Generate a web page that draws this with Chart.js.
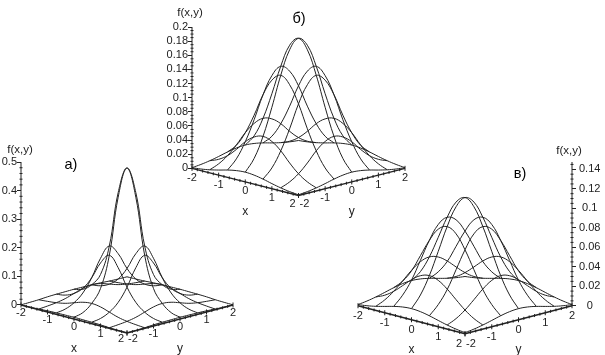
<!DOCTYPE html>
<html>
<head>
<meta charset="utf-8">
<style>
  html, body { margin: 0; background: #fff; }
  canvas { position: absolute; }
</style>
<script src="https://cdn.jsdelivr.net/npm/chart.js@4/dist/chart.umd.min.js"></script>
</head>
<body>
<canvas id="panelA" width="240" height="215" style="left:0;top:140px"></canvas>
<canvas id="panelB" width="250" height="225" style="left:165px;top:0"></canvas>
<canvas id="panelC" width="260" height="215" style="left:345px;top:140px"></canvas>
<script>
// mesh lines and the samples along each line
const gridLines = [-2, -1.333, -0.667, 0, 0.667, 1.333, 2];
const sampleT = [-2, -1.667, -1.333, -1, -0.667, -0.333, 0, 0.333, 0.667, 1, 1.333, 1.667, 2];
const rowOfLine = ['edge', 'outer', 'inner', 'centre', 'inner', 'outer', 'edge'];
const axisTicks = [-2, -1, 0, 1, 2];
const axisMinor = [-1.8, -1.6, -1.4, -1.2, -0.8, -0.6, -0.4, -0.2, 0.2, 0.4, 0.6, 0.8, 1.2, 1.4, 1.6, 1.8];

// а) f values
const centreA = [0.006, 0.014, 0.038, 0.082, 0.19, 0.385, 0.479, 0.385, 0.19, 0.082, 0.038, 0.014, 0.006];
const innerA = [0.005, 0.01, 0.024, 0.05, 0.095, 0.155, 0.19, 0.155, 0.095, 0.05, 0.024, 0.01, 0.005];
const outerA = [0.002, 0.0045, 0.008, 0.014, 0.024, 0.034, 0.038, 0.034, 0.024, 0.014, 0.008, 0.0045, 0.002];
const edgeA = [0.0005, 0.001, 0.002, 0.004, 0.005, 0.0055, 0.006, 0.0055, 0.005, 0.004, 0.002, 0.001, 0.0005];
const ticksA = [0, 0.1, 0.2, 0.3, 0.4, 0.5];
const minorA = [0.02, 0.04, 0.06, 0.08, 0.12, 0.14, 0.16, 0.18, 0.22, 0.24, 0.26, 0.28, 0.32, 0.34, 0.36, 0.38, 0.42, 0.44, 0.46, 0.48];

// б)
const centreB = [0.0138, 0.030, 0.058, 0.096, 0.138, 0.171, 0.184, 0.171, 0.138, 0.096, 0.058, 0.030, 0.0138];
const innerB = [0.0104, 0.023, 0.044, 0.072, 0.104, 0.128, 0.138, 0.128, 0.104, 0.072, 0.044, 0.023, 0.0104];
const outerB = [0.0044, 0.0096, 0.018, 0.030, 0.044, 0.054, 0.058, 0.054, 0.044, 0.030, 0.018, 0.0096, 0.0044];
const edgeB = [0.001, 0.0023, 0.0044, 0.0072, 0.0104, 0.0128, 0.0138, 0.0128, 0.0104, 0.0072, 0.0044, 0.0023, 0.001];
const ticksB = [0, 0.02, 0.04, 0.06, 0.08, 0.1, 0.12, 0.14, 0.16, 0.18, 0.2];
const minorB = [0.005, 0.01, 0.015, 0.025, 0.03, 0.035, 0.045, 0.05, 0.055, 0.065, 0.07, 0.075, 0.085, 0.09, 0.095, 0.105, 0.11, 0.115, 0.125, 0.13, 0.135, 0.145, 0.15, 0.155, 0.165, 0.17, 0.175, 0.185, 0.19, 0.195];

// в)
const centreC = [0.0114, 0.023, 0.0405, 0.063, 0.086, 0.104, 0.111, 0.104, 0.086, 0.063, 0.0405, 0.023, 0.0114];
const innerC = [0.0089, 0.018, 0.031, 0.049, 0.067, 0.081, 0.086, 0.081, 0.067, 0.049, 0.031, 0.018, 0.0089];
const outerC = [0.0042, 0.0084, 0.0148, 0.023, 0.0315, 0.038, 0.0405, 0.038, 0.0315, 0.023, 0.0148, 0.0084, 0.0042];
const edgeC = [0.0012, 0.0024, 0.0042, 0.0065, 0.0089, 0.0107, 0.0114, 0.0107, 0.0089, 0.0065, 0.0042, 0.0024, 0.0012];
const ticksC = [0, 0.02, 0.04, 0.06, 0.08, 0.1, 0.12, 0.14];
const minorC = [0.005, 0.01, 0.015, 0.025, 0.03, 0.035, 0.045, 0.05, 0.055, 0.065, 0.07, 0.075, 0.085, 0.09, 0.095, 0.105, 0.11, 0.115, 0.125, 0.13, 0.135, 0.145];

const INK = '#222';
const FONT = '"Liberation Sans", Arial, sans-serif';

// 3d -> plot: horizontal is x+y, the floor tilts down towards the viewer by `tilt` f-units
function project(x, y, f, tilt) {
  return { x: x + y, y: f - tilt * (x - y) };
}

function line(data, width) {
  return { data, showLine: true, tension: 0.4, borderColor: INK, borderWidth: width || 1, pointRadius: 0, clip: false };
}

function tickMarks(data, radius, rotation) {
  return { data, showLine: false, pointStyle: 'line', pointRadius: radius, pointRotation: rotation, pointBorderColor: INK, pointBorderWidth: 1, clip: false };
}

function meshDatasets(p) {
  const out = [];
  gridLines.forEach((d, i) => {
    const row = p.rows[rowOfLine[i]];
    out.push(line(sampleT.map((t, j) => project(d, t, row[j], p.tilt))));
    out.push(line(sampleT.map((t, j) => project(t, d, row[j], p.tilt))));
  });
  return out;
}

function axisDatasets(p) {
  const vx = p.axisRight ? 4 : -4;
  const floorX = (v) => project(v, -2, 0, p.tilt);
  const floorY = (v) => project(2, v, 0, p.tilt);
  return [
    line([{ x: vx, y: 0 }, { x: vx, y: p.max }]),
    tickMarks(p.minor.map((v) => ({ x: vx, y: v })), 1.5, 0),
    line([floorX(-2), floorX(2)], 1.4),
    line([floorY(-2), floorY(2)], 1.4),
    tickMarks(axisMinor.map(floorX), 1.5, 90),
    tickMarks(axisMinor.map(floorY), 1.5, 90),
    tickMarks(axisTicks.map(floorX), 2.5, 90),
    tickMarks(axisTicks.map(floorY), 2.5, 90),
  ];
}

// подписи осей x/y и заголовки
const panelText = {
  id: 'panelText',
  afterDraw(chart, args, o) {
    const { ctx } = chart;
    const sx = chart.scales.x, sy = chart.scales.y;
    ctx.save();
    ctx.fillStyle = INK;
    ctx.textAlign = 'center';
    ctx.textBaseline = 'middle';
    ctx.font = '11px ' + FONT;
    axisTicks.forEach((v) => {
      const a = project(v, -2, 0, o.tilt), b = project(2, v, 0, o.tilt);
      const ax = v === 2 ? -6 : 0, ay = v === 2 ? o.cornerDrop : o.drop;
      const bx = v === -2 ? 6 : 0, by = v === -2 ? o.cornerDrop : o.drop;
      ctx.fillText(String(v), sx.getPixelForValue(a.x) + ax, sy.getPixelForValue(a.y) + ay);
      ctx.fillText(String(v), sx.getPixelForValue(b.x) + bx, sy.getPixelForValue(b.y) + by);
    });
    ctx.font = '12px ' + FONT;
    const xt = project(0, -2, 0, o.tilt), yt = project(2, 0, 0, o.tilt);
    ctx.fillText('x', sx.getPixelForValue(xt.x), sy.getPixelForValue(xt.y) + 30);
    ctx.fillText('y', sx.getPixelForValue(yt.x), sy.getPixelForValue(yt.y) + 30);
    ctx.font = '11.5px ' + FONT;
    ctx.fillText('f(x,y)', o.fx, o.fy);
    ctx.fillStyle = '#000';
    ctx.font = '14.5px ' + FONT;
    ctx.fillText(o.name, o.nameX, o.nameY);
    ctx.restore();
  },
};

function drawPanel(canvasId, p) {
  new Chart(document.getElementById(canvasId), {
    type: 'scatter',
    data: { datasets: meshDatasets(p).concat(axisDatasets(p)) },
    plugins: [panelText],
    options: {
      responsive: false,
      animation: false,
      layout: { padding: p.padding },
      plugins: {
        legend: { display: false },
        tooltip: { enabled: false },
        panelText: { tilt: p.tilt, name: p.name, nameX: p.nameX, nameY: p.nameY, fx: p.fx, fy: p.fy, drop: p.drop, cornerDrop: p.cornerDrop },
      },
      scales: {
        x: { type: 'linear', display: false, min: -4, max: 4 },
        y: {
          type: 'linear',
          position: p.axisRight ? 'right' : 'left',
          min: p.min,
          max: p.max,
          afterBuildTicks: (s) => { s.ticks = p.ticks.map((v) => ({ value: v })); },
          afterFit: (s) => { s.width = p.axisWidth; },
          border: { display: false },
          grid: { drawOnChartArea: false, tickLength: 4, tickColor: INK },
          ticks: {
            color: INK, font: { family: FONT, size: 11 }, padding: p.axisRight ? 3 : 0,
            crossAlign: p.axisRight ? 'center' : 'near',
            autoSkip: false, maxRotation: 0, callback: (v) => String(v),
          },
        },
      },
    },
  });
}

drawPanel('panelA', {
  rows: { centre: centreA, inner: innerA, outer: outerA, edge: edgeA },
  ticks: ticksA, minor: minorA, tilt: 0.0245, min: -0.14, max: 0.5,
  axisWidth: 21, padding: { top: 22, bottom: 10, right: 7 }, drop: 8, cornerDrop: 6,
  name: 'а)', nameX: 71, nameY: 25, fx: 20, fy: 10,
});
drawPanel('panelB', {
  rows: { centre: centreB, inner: innerB, outer: outerB, edge: edgeB },
  ticks: ticksB, minor: minorB, tilt: 0.0096, min: -0.066, max: 0.2,
  axisWidth: 27, padding: { top: 27, bottom: 10, right: 10 }, drop: 9.5, cornerDrop: 8,
  name: 'б)', nameX: 134, nameY: 19, fx: 25, fy: 13,
});
drawPanel('panelC', {
  rows: { centre: centreC, inner: innerC, outer: outerC, edge: edgeC },
  ticks: ticksC, minor: minorC, tilt: 0.0072, min: -0.0403, max: 0.1475, axisRight: true,
  axisWidth: 33, padding: { top: 22, bottom: 10, left: 13 }, drop: 10, cornerDrop: 10,
  name: 'в)', nameX: 175, nameY: 34, fx: 224, fy: 11,
});
</script>
</body>
</html>
